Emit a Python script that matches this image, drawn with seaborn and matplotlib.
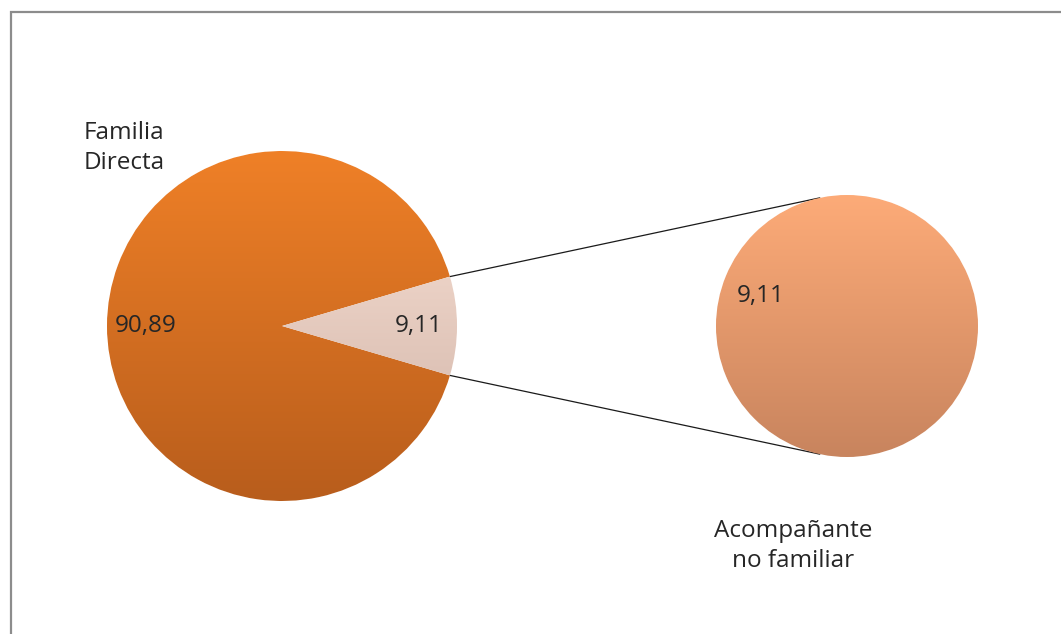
import numpy as np
import matplotlib.pyplot as plt
import seaborn as sns
from matplotlib.patches import Rectangle

# data
categories = ["Familia\nDirecta", "Acompañante\nno familiar"]
main_values = [90.89, 9.11]
sub_values = [9.11]

sns.set_style("white")
plt.rcParams["font.family"] = ["Open Sans", "DejaVu Sans"]

W, H = 1061, 634
fig = plt.figure(figsize=(W / 100, H / 100), dpi=100)
ax = fig.add_axes([0, 0, 1, 1])

main_c, main_r = (282, H - 326), 175
sub_c, sub_r = (847, H - 326), 131
text_kw = dict(fontsize=17.5, color="#262626")


def fmt(v):
    return f"{v:.2f}".replace(".", ",")


def fill_gradient(patch, top, bottom, cx, cy, r):
    cmap = sns.blend_palette([bottom, top], as_cmap=True)
    grad = np.linspace(0, 1, 256).reshape(-1, 1)
    im = ax.imshow(
        grad, cmap=cmap, origin="lower", aspect="auto", interpolation="bilinear",
        extent=[cx - r, cx + r, cy - r, cy + r], zorder=patch.get_zorder() + 0.1,
    )
    im.set_clip_path(patch)


# main pie, small slice pulled to the right
share = main_values[1] / sum(main_values) * 360
wedges, _, autotexts = ax.pie(
    [main_values[1], main_values[0]], center=main_c, radius=main_r,
    startangle=-share / 2, autopct=fmt, pctdistance=0.78, frame=True,
    colors=["#f0d2c4", "#e0782a"], textprops=text_kw,
)
fill_gradient(wedges[1], "#ef8027", "#b85d1c", *main_c, main_r)
fill_gradient(wedges[0], "#fce4d8", "#cdb0a4", *main_c, main_r)
for t in autotexts:
    t.set_zorder(5)

# secondary pie
sub_w, sub_t = ax.pie(
    sub_values, center=sub_c, radius=sub_r, startangle=-19,
    labels=[fmt(v) for v in sub_values], labeldistance=0.70,
    colors=["#f0a070"], frame=True, textprops=text_kw,
)
fill_gradient(sub_w[0], "#fdab78", "#c8845e", *sub_c, sub_r)
for t in sub_t:
    t.set_ha("center")
    t.set_zorder(5)

# connector lines
a = np.radians(share / 2)
b = np.radians(102)
for s in (1, -1):
    ax.plot(
        [main_c[0] + main_r * np.cos(a), sub_c[0] + sub_r * np.cos(b)],
        [main_c[1] + s * main_r * np.sin(a), sub_c[1] + s * sub_r * np.sin(b)],
        color="#1a1a1a", lw=0.9, zorder=1,
    )

# category labels
ax.text(main_c[0] - 198, main_c[1] + 178, categories[0], ha="left", va="center",
        linespacing=1.32, **text_kw)
ax.text(sub_c[0] - 54, sub_c[1] - 220, categories[1], ha="center", va="center",
        linespacing=1.32, **text_kw)

# chart border
ax.add_patch(Rectangle((10.5, -20), 1200, H - 12 + 20, fill=False,
                       edgecolor="#8c8c8c", lw=1.6, zorder=6))

ax.set_xlim(0, W)
ax.set_ylim(0, H)
ax.set_aspect("equal")
ax.axis("off")
fig.savefig("out.png", dpi=100, facecolor="white")
